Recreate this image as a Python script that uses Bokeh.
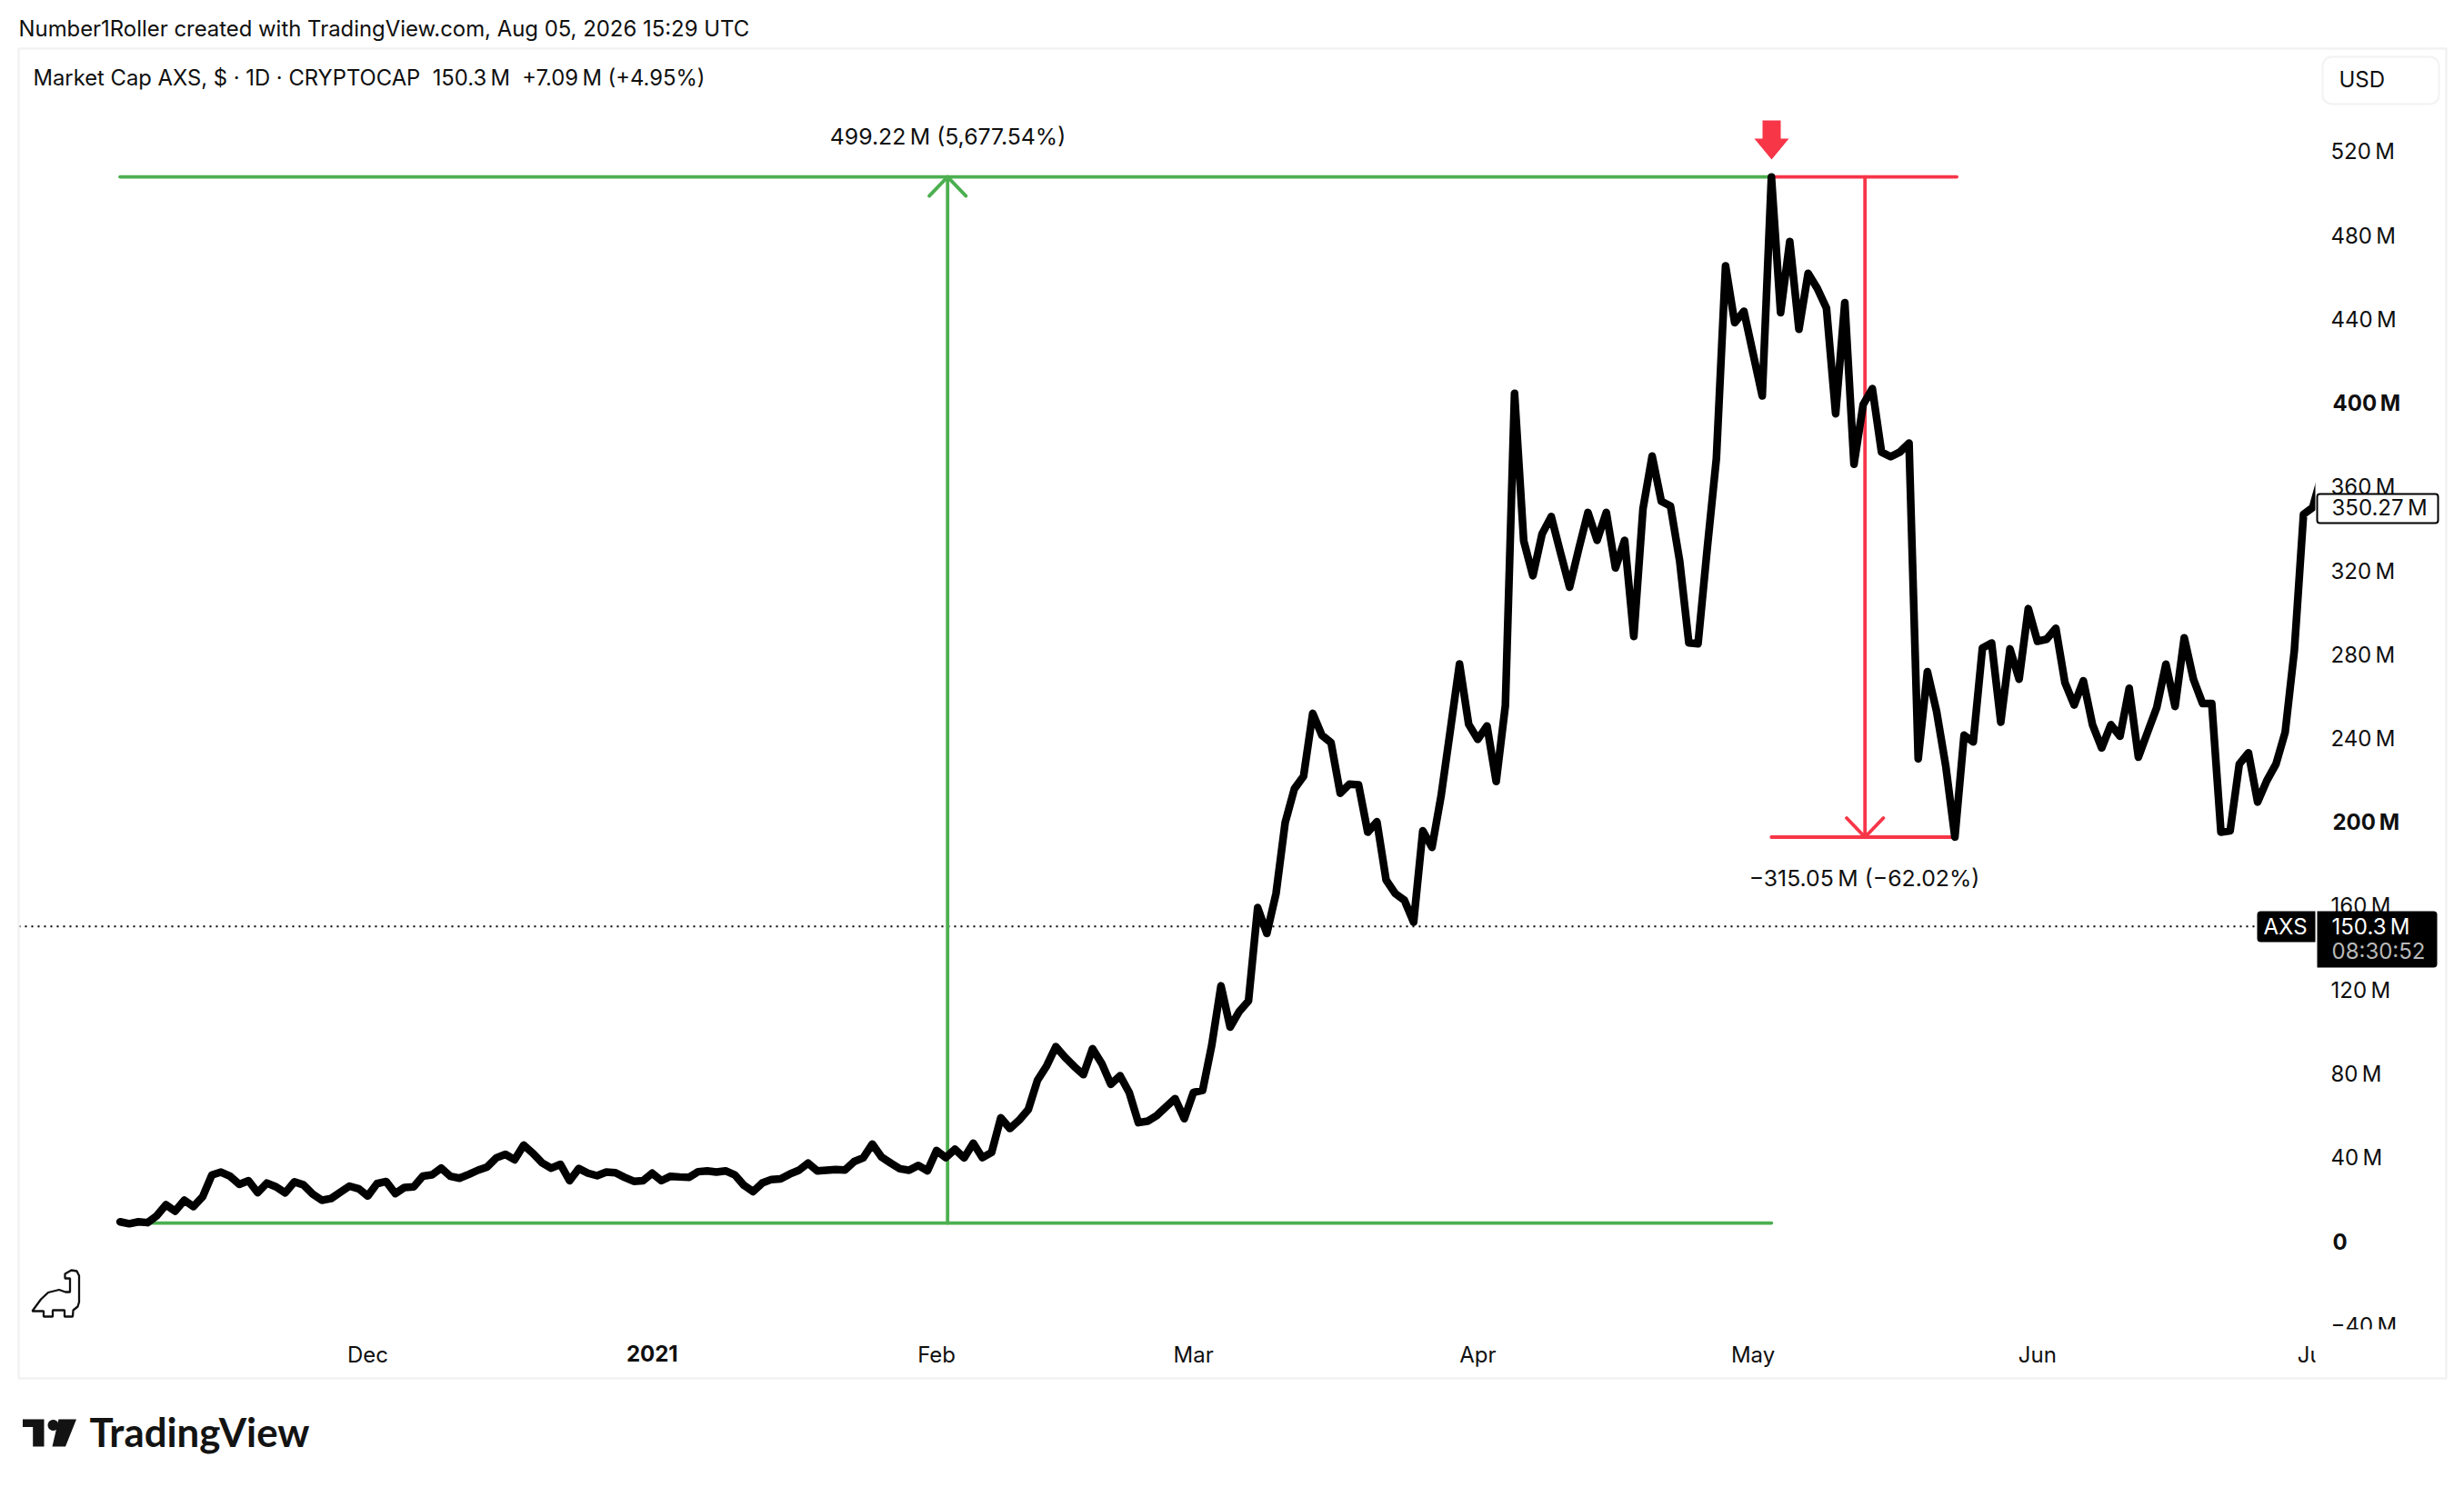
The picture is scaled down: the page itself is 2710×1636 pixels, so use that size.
from math import cos, sin, pi
from bokeh.plotting import figure
from bokeh.models import Range1d, FixedTicker, Label, BoxAnnotation, PolyAnnotation
from bokeh.embed import file_html
from bokeh.resources import INLINE

# Daily market cap of AXS in millions of USD, first value is 2020-11-04 (day 0)
market_cap_musd = [
    9.4,8.5,9.4,9.0,12.3,17.5,14.5,19.7,16.7,21.4,
    31.7,33.1,31.1,27.3,29.0,23.3,27.9,26.1,23.2,28.5,
    27.0,22.6,19.7,20.5,23.5,26.4,25.2,21.7,27.6,28.6,
    22.9,25.8,26.1,31.2,31.8,35.0,31.1,30.2,32.0,34.0,
    35.5,39.9,41.6,39.0,46.0,42.1,37.5,35.0,36.8,29.0,
    34.8,32.6,31.4,33.1,32.8,30.6,28.7,29.0,32.6,29.0,
    31.1,30.8,30.6,33.3,33.7,33.1,33.7,
    31.8,26.8,23.8,27.9,29.6,29.9,32.2,34.0,37.4,33.7,
    34.0,34.3,34.1,38.1,39.9,46.5,40.3,37.4,34.7,34.0,
    36.3,33.7,43.4,40.0,44.0,39.9,46.9,40.0,42.5,59.0,
    53.9,57.9,63.0,76.9,83.8,93.0,87.9,83.5,79.6,92.0,
    85.0,75.0,79.1,71.1,56.7,57.4,60.1,64.2,68.2,58.6,
    71.1,72.1,93.8,
    122.0,102.3,109.8,114.8,159.3,147.0,166.0,200.0,216.0,222.0,
    252.0,241.6,238.0,213.9,218.2,217.9,195.3,200.3,172.5,166.0,
    162.8,152.4,196.0,188.1,212.8,244.0,275.6,246.8,239.6,246.0,
    219.5,255.7,
    404.7,334.3,317.7,337.6,345.9,328.8,312.2,330.5,347.9,334.6,
    347.9,321.4,334.6,288.7,349.6,374.8,353.2,350.9,324.7,285.7,
    285.2,330.5,373.6,
    465.6,438.4,443.9,423.7,403.5,508.0,443.2,477.2,435.3,462.0,
    454.8,445.4,395.0,448.0,370.9,399.4,407.0,376.7,374.5,376.7,381.0,
    230.3,271.9,253.0,227.0,193.0,241.6,238.4,283.2,285.6,247.8,
    282.8,268.3,302.0,286.4,287.4,292.6,266.6,256.0,267.6,246.6,
    235.5,246.6,241.1,264.0,231.1,243.0,254.8,275.5,255.3,288.1,
    268.3,256.7,256.7,195.3,196.0,227.8,233.2,209.7,219.9,227.8,
    243.0,282.0,347.0,350.27,366.0,
]
days = list(range(len(market_cap_musd)))

# Time axis: day offsets of month starts and their labels
x_tick_days = [27, 58, 89, 117, 148, 178, 209, 239]
x_tick_labels = ["Dec", "", "Feb", "Mar", "Apr", "May", "Jun", "Jul"]
x_bold = {58: "2021"}

# Price axis
y_ticks = [-40, 0, 40, 80, 120, 160, 200, 240, 280, 320, 360, 400, 440, 480, 520]
y_bold = {400: "400\u202fM", 200: "200\u202fM", 0: "0"}

# Drawing tools and last values
tool_high = 508.01
tool_low = 8.79
tool_drop_low = 192.96
last_value = 150.3
tool_peak_day = 180
tool_trough_day = 200
green_mid_day = 90.2
red_mid_day = 190.2
long_label = "499.22\u202fM (5,677.54%)"
short_label = "\u2212315.05\u202fM (\u221262.02%)"
header = "Market Cap AXS, $ \u00b7 1D \u00b7 CRYPTOCAP\u00a0\u00a0150.3\u202fM\u00a0\u00a0+7.09\u202fM (+4.95%)"
credit = "Number1Roller created with TradingView.com, Aug 05, 2026 15:29 UTC"

GREEN = "#4caf50"
RED = "#f73648"
INK = "#0f0f0f"
FONT = "Inter"
FS = "24px"

# The frame fills the whole canvas; pane edges sit at day 239.29 and -40.4 M.
PANE_LEFT_DAY = -11.06
PANE_RIGHT_DAY = 239.29
PANE_BOTTOM_M = -40.4

p = figure(
    frame_width=2702, frame_height=1628, min_border=0,
    x_range=Range1d(-13.04, 254.75), y_range=Range1d(-113.9, 592.2),
    y_axis_location="right", output_backend="svg", toolbar_location=None,
    outline_line_color=None, background_fill_color="white", border_fill_color="white",
)
p.grid.visible = False

ya = p.yaxis[0]
ya.fixed_location = PANE_RIGHT_DAY
ya.ticker = FixedTicker(ticks=y_ticks)
ya.major_label_overrides = {
    t: ("" if t in y_bold else ("\u2212" + str(-t) if t < 0 else str(t)) + "\u202fM") for t in y_ticks
}
xa = p.xaxis[0]
xa.fixed_location = PANE_BOTTOM_M
xa.ticker = FixedTicker(ticks=x_tick_days)
xa.major_label_overrides = dict(zip(x_tick_days, x_tick_labels))
for a in (xa, ya):
    a.axis_line_color = None
    a.major_tick_line_color = None
    a.minor_tick_line_color = None
    a.major_tick_out = 0
    a.major_tick_in = 0
    a.major_label_text_font = FONT
    a.major_label_text_font_size = FS
    a.major_label_text_color = INK
ya.major_label_standoff = 17
xa.major_label_standoff = 17

# dotted last-value line
p.segment(x0=[PANE_LEFT_DAY], y0=[last_value], x1=[PANE_RIGHT_DAY], y1=[last_value],
          line_color="black", line_width=2, line_dash="2 5", level="underlay")

# measure tools under the series
peak, trough = tool_peak_day, tool_trough_day
arm_d, arm_v = 2.0, 9.1
p.multi_line(
    xs=[[0, peak], [0, peak], [green_mid_day, green_mid_day],
        [green_mid_day - arm_d, green_mid_day, green_mid_day + arm_d]],
    ys=[[tool_high, tool_high], [tool_low, tool_low], [tool_low, tool_high],
        [tool_high - arm_v, tool_high, tool_high - arm_v]],
    line_color=GREEN, line_width=3.8, line_cap="round", line_join="round", level="underlay",
)
p.multi_line(
    xs=[[peak, trough + 0.2], [peak, trough], [red_mid_day, red_mid_day],
        [red_mid_day - arm_d, red_mid_day, red_mid_day + arm_d]],
    ys=[[tool_high, tool_high], [tool_drop_low, tool_drop_low], [tool_high, tool_drop_low],
        [tool_drop_low + arm_v, tool_drop_low, tool_drop_low + arm_v]],
    line_color=RED, line_width=3.8, line_cap="round", line_join="round", level="underlay",
)

p.line(days, market_cap_musd, line_color="black", line_width=8.5, line_join="round", line_cap="round",
       level="underlay")

LEVEL = "annotation"


def box(l, t, r, b, fill=None, line=None, radius=0, width=2, level=LEVEL):
    p.add_layout(BoxAnnotation(
        left=l, right=r, top=t, bottom=b,
        left_units="canvas", right_units="canvas", top_units="canvas", bottom_units="canvas",
        fill_color=fill, fill_alpha=1 if fill else 0,
        line_color=line, line_alpha=1 if line else 0, line_width=width,
        border_radius=radius, level=level, editable=False,
    ))


def lbl(x, y, text, color=INK, align="left", size=FS, style="normal", font=FONT,
        baseline="middle", yunits="canvas", xunits="canvas"):
    p.add_layout(Label(
        x=x, y=y, x_units=xunits, y_units=yunits, text=text, text_color=color, text_align=align,
        text_baseline=baseline, text_font=font, text_font_size=size, text_font_style=style,
        level=LEVEL,
    ))


def poly(pts, fill=None, line=None, width=1):
    p.add_layout(PolyAnnotation(
        xs=[a for a, _ in pts], ys=[b for _, b in pts],
        xs_units="canvas", ys_units="canvas",
        fill_color=fill, fill_alpha=1 if fill else 0,
        line_color=line, line_alpha=1 if line else 0, line_width=width,
        level=LEVEL, editable=False,
    ))


# pane clip: the series stops at the price scale, and scale text stops at the pane bottom
box(2546, 50, 2702, 1460, fill="white", level="glyph")
box(2530, 1462, 2680, 1475, fill="white")
box(2546, 1470, 2600, 1512, fill="white")

# card border
box(20, 53, 2690, 1516, line="#f2f2f2", width=2.5)

# bold ticks
for v, t in y_bold.items():
    lbl(2565, v, t, style="bold", yunits="data")
for d, t in x_bold.items():
    lbl(d, 1488, t, style="bold", align="center", xunits="data")

# header
lbl(20, 31, credit, size="23.9px")
lbl(36, 85, header, size="23.8px")

# currency button
box(2554, 62, 2682, 114, fill="white", line="#f2f2f2", radius=10)
lbl(2572, 87, "USD")

# measure labels
lbl(1042, 149.5, long_label, align="center", size="24.8px")
lbl(2050, 965, short_label, align="center", size="24.8px")

# red arrow above the peak
poly([(1938, 132), (1958, 132), (1958, 152), (1967, 152), (1948, 175), (1929, 152), (1938, 152)], fill=RED)

# badges
box(2548, 543, 2681, 575, fill="white", line="black", radius=3, width=2)
lbl(2564, 558, "350.27\u202fM")
box(2482, 1002, 2546, 1036, fill="black", radius=(4, 0, 0, 4))
lbl(2489, 1019, "AXS", color="white")
box(2548, 1002, 2680, 1064, fill="black", radius=(0, 4, 4, 0))
lbl(2564, 1019, "150.3\u202fM", color="white")
lbl(2564, 1046, "08:30:52", color="#b8b8b8")

# dinosaur mark
dino = [(78.0, 1397), (84, 1398), (86.5, 1403), (86.5, 1432), (85, 1437), (80, 1441), (79.5, 1448),
        (70.5, 1448), (70.5, 1441), (57.5, 1441), (57.5, 1448), (47.5, 1448), (47.5, 1442), (35, 1442),
        (44.5, 1429), (52.5, 1421.5), (64.5, 1418.5), (71.5, 1421), (76.5, 1421), (76.5, 1406), (71, 1406),
        (71, 1401)]
poly(dino, line=INK, width=2.3)

# TradingView logo
LOGO = "#131313"
poly([(24.5, 1561), (48, 1561), (48, 1591), (35.7, 1591), (35.7, 1569.5), (24.5, 1569.5)], fill=LOGO)
poly([(58 + 6 * cos(a * pi / 10), 1567.5 + 6 * sin(a * pi / 10)) for a in range(20)], fill=LOGO)
poly([(64, 1561), (83.5, 1561), (71.5, 1591), (57, 1591)], fill=LOGO)
lbl(98, 1574, "TradingView", color=LOGO, size="43.8px", style="bold", font="Lato", baseline="alphabetic")

open("out.html", "w").write(file_html(p, INLINE))
